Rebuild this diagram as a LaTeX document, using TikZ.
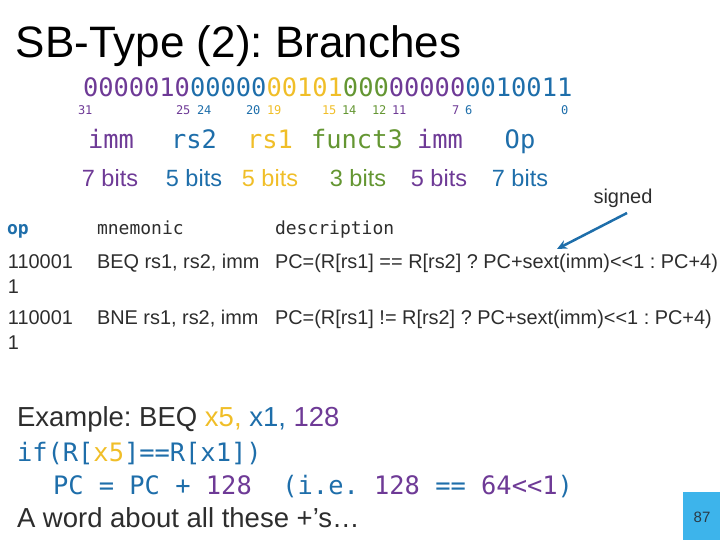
\documentclass[tikz,border=0pt]{standalone}
\usepackage{fontspec}
\setmainfont{Liberation Sans}[Ligatures=TeXOff]
\newfontfamily\monof{DejaVu Sans Mono}
\usetikzlibrary{arrows.meta}
\frenchspacing
\definecolor{cpur}{RGB}{110,58,150}
\definecolor{cblu}{RGB}{30,110,170}
\definecolor{cyel}{RGB}{240,190,40}
\definecolor{cgrn}{RGB}{100,150,50}
\definecolor{ctxt}{RGB}{45,45,45}
\definecolor{cbox}{RGB}{61,180,235}
\tikzset{
  txt/.style={inner sep=0pt, outer sep=0pt, anchor=base west, text=ctxt},
  ctr/.style={inner sep=0pt, outer sep=0pt, anchor=base},
  bitsf/.style={font=\monof\fontsize{25.4}{25.4}\selectfont},
  numf/.style={font=\monof\fontsize{12}{12}\selectfont},
  fieldf/.style={font=\monof\fontsize{25.4}{25.4}\selectfont},
  widthf/.style={font=\fontsize{23.5}{23.5}\selectfont},
  tabf/.style={font=\fontsize{19.9}{19.9}\selectfont},
  headf/.style={font=\monof\fontsize{18}{18}\selectfont},
  codef/.style={font=\monof\fontsize{25.4}{25.4}\selectfont},
  bigf/.style={font=\fontsize{27.5}{27.5}\selectfont},
}
\begin{document}
\begin{tikzpicture}[x=1pt,y=-1pt]
\useasboundingbox (0,0) rectangle (720,540);
% title
\node[txt, font=\fontsize{44}{44}\selectfont, text=black] (title) at (16,58) {SB-Type (2): Branches};
% bit string
\node[txt, bitsf] (bits) at (83,97) {\textcolor{cpur}{0000010}\textcolor{cblu}{00000}\textcolor{cyel}{00101}\textcolor{cgrn}{000}\textcolor{cpur}{00000}\textcolor{cblu}{0010011}};
% bit numbers
\node[txt, numf, text=cpur] (n31) at (78,115) {31};
\node[txt, numf, text=cpur] (n25) at (176,115) {25};
\node[txt, numf, text=cblu] (n24) at (197,115) {24};
\node[txt, numf, text=cblu] (n20) at (246,115) {20};
\node[txt, numf, text=cyel] (n19) at (267,115) {19};
\node[txt, numf, text=cyel] (n15) at (322,115) {15};
\node[txt, numf, text=cgrn] (n14) at (342,115) {14};
\node[txt, numf, text=cgrn] (n12) at (372,115) {12};
\node[txt, numf, text=cpur] (n11) at (392,115) {11};
\node[txt, numf, text=cpur] (n7) at (452,115) {7};
\node[txt, numf, text=cblu] (n6) at (465,115) {6};
\node[txt, numf, text=cblu] (n0) at (561,115) {0};
% field names
\node[ctr, fieldf, text=cpur] (f1) at (111,149) {imm};
\node[ctr, fieldf, text=cblu] (f2) at (194,149) {rs2};
\node[ctr, fieldf, text=cyel] (f3) at (270,149) {rs1};
\node[ctr, fieldf, text=cgrn] (f4) at (357,149) {funct3};
\node[ctr, fieldf, text=cpur] (f5) at (440,149) {imm};
\node[ctr, fieldf, text=cblu] (f6) at (520,149) {Op};
% widths
\node[ctr, widthf, text=cpur] (w1) at (110,187) {7 bits};
\node[ctr, widthf, text=cblu] (w2) at (194,187) {5 bits};
\node[ctr, widthf, text=cyel] (w3) at (270,187) {5 bits};
\node[ctr, widthf, text=cgrn] (w4) at (358,187) {3 bits};
\node[ctr, widthf, text=cpur] (w5) at (439,187) {5 bits};
\node[ctr, widthf, text=cblu] (w6) at (520,187) {7 bits};
\node[ctr, font=\fontsize{20}{20}\selectfont, text=ctxt] (signed) at (623,204) {signed};
% table header
\node[txt, text=cblu, font=\monof\bfseries\fontsize{18}{18}\selectfont] (hop) at (7,234) {op};
\node[txt, headf] (hmn) at (97,234) {mnemonic};
\node[txt, headf] (hde) at (275,234) {description};
% rows
\node[txt, tabf] (r1op) at (8,268) {110001};
\node[txt, tabf] (r1op2) at (8,293) {1};
\node[txt, tabf] (r1mn) at (97,268) {BEQ rs1, rs2, imm};
\node[txt, tabf] (r1de) at (275,268) {PC=(R[rs1] == R[rs2] ? PC+sext(imm)<<1 : PC+4)};
\node[txt, tabf] (r2op) at (8,324) {110001};
\node[txt, tabf] (r2op2) at (8,349) {1};
\node[txt, tabf] (r2mn) at (97,324) {BNE rs1, rs2, imm};
\node[txt, tabf] (r2de) at (275,324) {PC=(R[rs1] != R[rs2] ? PC+sext(imm)<<1 : PC+4)};
% arrow
\coordinate (astart) at (627,213);
\coordinate (aend) at (557,249);
\draw[cblu, line width=2.5pt, -{Stealth[length=10pt,width=9pt]}] (astart) -- (aend);
% example
\node[txt, bigf] (ex) at (17,426) {Example: BEQ \textcolor{cyel}{x5,} \textcolor{cblu}{x1,} \textcolor{cpur}{128}};
\node[txt, codef, text=cblu] (c1) at (17,461) {if(R[\textcolor{cyel}{x5}]==R[x1])};
\node[txt, codef, text=cblu] (c2) at (53,494) {PC = PC + \textcolor{cpur}{128}\ \ (i.e. \textcolor{cpur}{128} == \textcolor{cpur}{64<<1})};
\node[txt, bigf] (aw) at (17,527) {A word about all these +’s…};
% page box
\fill[cbox] (683,492) rectangle (720,540);
\node[ctr, font=\fontsize{15}{15}\selectfont, text=ctxt!80!cblu] (pg) at (702,522) {87};
\end{tikzpicture}
\end{document}
